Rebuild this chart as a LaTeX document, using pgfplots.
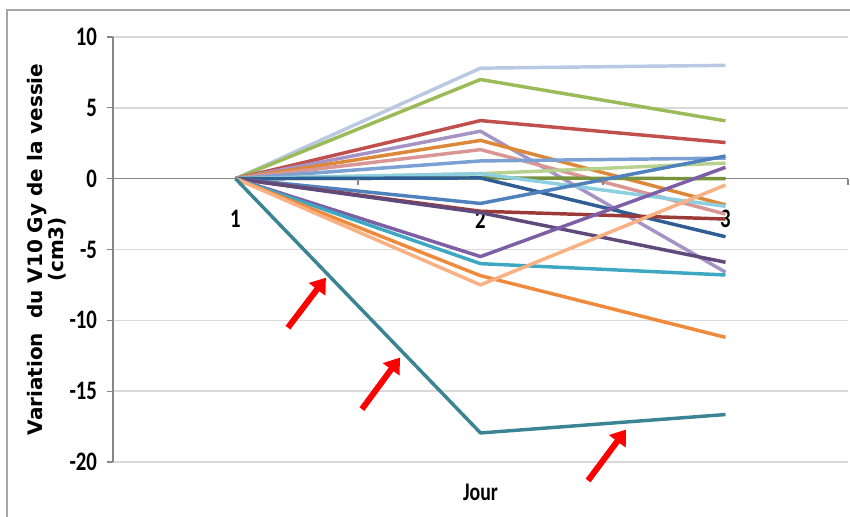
\documentclass[border=0pt]{standalone}
\usepackage{fontspec}
\usepackage{pgfplots}
\pgfplotsset{compat=1.18}
\usetikzlibrary{arrows.meta}
\newfontfamily\tickfont[FakeStretch=0.78]{Carlito Bold}
\newfontfamily\labfont{DejaVu Sans Bold}
\definecolor{gridgray}{HTML}{D9D9D9}
\definecolor{axgray}{HTML}{868686}
\definecolor{framegray}{HTML}{A6A6A6}
\begin{document}
\begin{tikzpicture}[x=0.75pt,y=0.75pt]
\useasboundingbox (0,0) rectangle (850,517);
\draw[framegray, line width=1.6pt] (7,0) -- (7,507) -- (850,507);
\begin{axis}[
  at={(84.75pt,41.25pt)}, anchor=south west,
  scale only axis, width=551.25pt, height=318.75pt,
  xmin=0.5, xmax=3.5, ymin=-20, ymax=10,
  axis x line*=middle, axis y line*=left,
  clip=false,
  xtick={1,2,3}, xticklabels={1,2,3},
  major x tick style={draw=none},
  ytick={-20,-15,-10,-5,0,5,10},
  ymajorgrids, grid style={gridgray, line width=1.1pt},
  y axis line style={axgray, line width=0.8pt},
  x axis line style={axgray, line width=1.1pt},
  ytick style={axgray, line width=0.8pt},
  tick align=outside, major tick length=4.5pt,
  /pgf/number format/assume math mode=true,
  ticklabel style={font=\tickfont\fontsize{20}{22}\selectfont},
  xticklabel style={anchor=center, yshift=-26pt},
  yticklabel style={xshift=-4pt},
  xlabel={Jour},
  xlabel style={at={(axis description cs:0.5,0)}, anchor=center, yshift=-22.5pt, font=\tickfont\fontsize{19}{21}\selectfont},
  ylabel={Variation\ \ du V10 Gy de la vessie\\(cm3)},
  ylabel style={at={(axis description cs:0,0.5)}, anchor=center, yshift=49.5pt, align=center, font=\labfont\fontsize{15}{15.5}\selectfont},
  every axis plot/.append style={line width=2.6pt, line join=round, mark=none},
]
\addplot[color={rgb,255:red,185;green,201;blue,227}] coordinates {(1,0) (2,7.8) (3,8.0)};
\addplot[color={rgb,255:red,155;green,187;blue,89}] coordinates {(1,0) (2,7.0) (3,4.08)};
\addplot[color={rgb,255:red,192;green,80;blue,77}] coordinates {(1,0) (2,4.1) (3,2.55)};
\addplot[color={rgb,255:red,166;green,147;blue,198}] coordinates {(1,0) (2,3.35) (3,-6.6)};
\addplot[color={rgb,255:red,221;green,136;blue,56}] coordinates {(1,0) (2,2.7) (3,-1.85)};
\addplot[color={rgb,255:red,217;green,150;blue,148}] coordinates {(1,0) (2,2.05) (3,-2.5)};
\addplot[color={rgb,255:red,123;green,160;blue,212}] coordinates {(1,0) (2,1.25) (3,1.45)};
\addplot[color={rgb,255:red,183;green,210;blue,142}] coordinates {(1,0) (2,0.35) (3,1.1)};
\addplot[color={rgb,255:red,119;green,147;blue,60}] coordinates {(1,0) (2,0.05) (3,0.0)};
\addplot[color={rgb,255:red,140;green,207;blue,224}] coordinates {(1,0) (2,0.35) (3,-1.95)};
\addplot[color={rgb,255:red,47;green,94;blue,148}] coordinates {(1,0) (2,0.05) (3,-4.1)};
\addplot[color={rgb,255:red,79;green,129;blue,189}] coordinates {(1,0) (2,-1.75) (3,1.6)};
\addplot[color={rgb,255:red,156;green,58;blue,56}] coordinates {(1,0) (2,-2.3) (3,-2.85)};
\addplot[color={rgb,255:red,96;green,74;blue,123}] coordinates {(1,0) (2,-2.4) (3,-5.9)};
\addplot[color={rgb,255:red,125;green,95;blue,165}] coordinates {(1,0) (2,-5.5) (3,0.8)};
\addplot[color={rgb,255:red,62;green,167;blue,194}] coordinates {(1,0) (2,-6.0) (3,-6.8)};
\addplot[color={rgb,255:red,239;green,138;blue,60}] coordinates {(1,0) (2,-6.85) (3,-11.2)};
\addplot[color={rgb,255:red,249;green,176;blue,131}] coordinates {(1,0) (2,-7.5) (3,-0.45)};
\addplot[color={rgb,255:red,59;green,132;blue,148}] coordinates {(1,0) (2,-17.95) (3,-16.65)};
\draw[axgray, line width=0.8pt] (axis cs:0.5,0) -- ([yshift=-4.5pt]axis cs:0.5,0);
\draw[axgray, line width=0.8pt] (axis cs:1.5,0) -- ([yshift=-4.5pt]axis cs:1.5,0);
\draw[axgray, line width=0.8pt] (axis cs:2.5,0) -- ([yshift=-4.5pt]axis cs:2.5,0);
\draw[axgray, line width=0.8pt] (axis cs:3.5,0) -- ([yshift=-4.5pt]axis cs:3.5,0);
\draw[red, line width=4.5pt, -{Triangle[length=11pt,width=15pt]}] (axis cs:1.214,-10.52) -- (axis cs:1.369,-6.99);
\draw[red, line width=4.5pt, -{Triangle[length=11pt,width=15pt]}] (axis cs:1.516,-16.27) -- (axis cs:1.671,-12.63);
\draw[red, line width=4.5pt, -{Triangle[length=11pt,width=15pt]}] (axis cs:2.439,-21.31) -- (axis cs:2.594,-17.71);
\end{axis}
\end{tikzpicture}
\end{document}
